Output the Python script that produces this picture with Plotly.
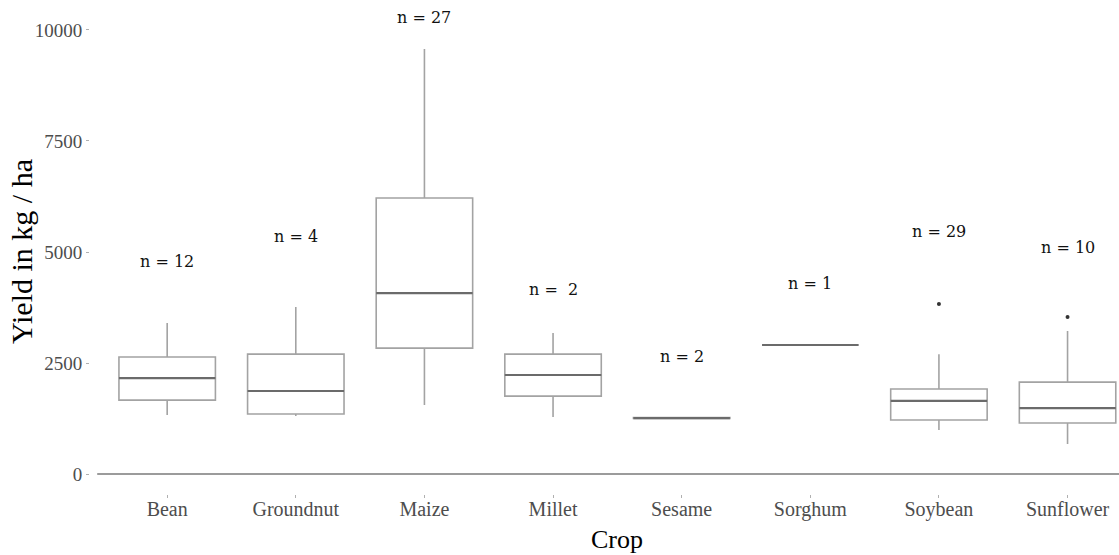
import plotly.graph_objects as go

crops = ["Bean", "Groundnut", "Maize", "Millet", "Sesame", "Sorghum", "Soybean", "Sunflower"]
lower_whisker = [1330, 1305, 1555, 1285, 1250, 2905, 990, 675]
q1 = [1665, 1350, 2835, 1755, 1250, 2905, 1215, 1150]
median = [2160, 1870, 4075, 2230, 1260, 2905, 1645, 1485]
q3 = [2635, 2700, 6215, 2700, 1270, 2905, 1915, 2070]
upper_whisker = [3400, 3760, 9570, 3175, 1270, 2905, 2700, 3220]

outlier_crops = ["Soybean", "Sunflower"]
outlier_values = [3830, 3535]

n_labels = ["n = 12", "n = 4", "n = 27", "n = \u00a02", "n = 2", "n = 1", "n = 29", "n = 10"]
n_label_y = [4790, 5340, 10270, 4165, 2655, 4300, 5470, 5110]

yticks = [0, 2500, 5000, 7500, 10000]

fig = go.Figure()

fig.add_trace(go.Box(
    x=crops, q1=q1, median=median, q3=q3,
    lowerfence=lower_whisker, upperfence=upper_whisker,
    width=0.75, whiskerwidth=0, boxpoints=False,
    fillcolor="white", line=dict(color="#a3a3a3", width=1.6),
    showlegend=False, hoverinfo="skip",
))

# darker median line overlay
fig.add_trace(go.Box(
    x=crops, q1=median, median=median, q3=median,
    lowerfence=median, upperfence=median,
    width=0.75, whiskerwidth=0, boxpoints=False,
    fillcolor="rgba(0,0,0,0)", line=dict(color="#6b6b6b", width=2.2),
    showlegend=False, hoverinfo="skip",
))

fig.add_trace(go.Scatter(
    x=outlier_crops, y=outlier_values, mode="markers",
    marker=dict(color="#333333", size=4),
    showlegend=False, hoverinfo="skip",
))

for c, t, yv in zip(crops, n_labels, n_label_y):
    fig.add_annotation(
        x=c, y=yv, xref="x", yref="y", text=t, showarrow=False,
        font=dict(family="DejaVu Serif", size=16, color="#111111"),
        xanchor="center", yanchor="middle",
    )

# axis titles
fig.add_annotation(
    x=0.512, y=-0.093, xref="paper", yref="paper", text="Crop", showarrow=False,
    font=dict(family="Liberation Serif", size=26, color="#000000"),
    xanchor="center", yanchor="middle",
)
fig.add_annotation(
    x=-0.066, y=0.49, xref="paper", yref="paper", text="Yield in kg / ha",
    showarrow=False, textangle=-90,
    font=dict(family="Liberation Serif", size=30, color="#000000"),
    xanchor="center", yanchor="middle",
)

fig.add_shape(type="line", xref="paper", yref="y", x0=0.007, x1=1, y0=0, y1=0,
              line=dict(color="#7a7a7a", width=1.5))

fig.update_layout(
    width=1119, height=555,
    margin=dict(l=90, r=0, t=0, b=61),
    paper_bgcolor="white", plot_bgcolor="white",
    boxmode="overlay",
    xaxis=dict(
        type="category", categoryorder="array", categoryarray=crops,
        range=[-0.6, 7.4], showgrid=False, zeroline=False, showline=False,
        ticks="outside", ticklen=3, tickcolor="#b0b0b0", tickwidth=1,
        ticklabelstandoff=-6,
        tickfont=dict(family="Liberation Serif", size=20, color="#4d4d4d"),
        automargin=False,
    ),
    yaxis=dict(
        range=[-450, 10675], tickvals=yticks, ticktext=[str(v) for v in yticks],
        showgrid=False, zeroline=False, showline=False,
        ticks="outside", ticklen=3, tickcolor="#b0b0b0", tickwidth=1,
        tickfont=dict(family="Liberation Serif", size=19, color="#4d4d4d"),
        automargin=False,
    ),
)

fig.write_html("out.html")
